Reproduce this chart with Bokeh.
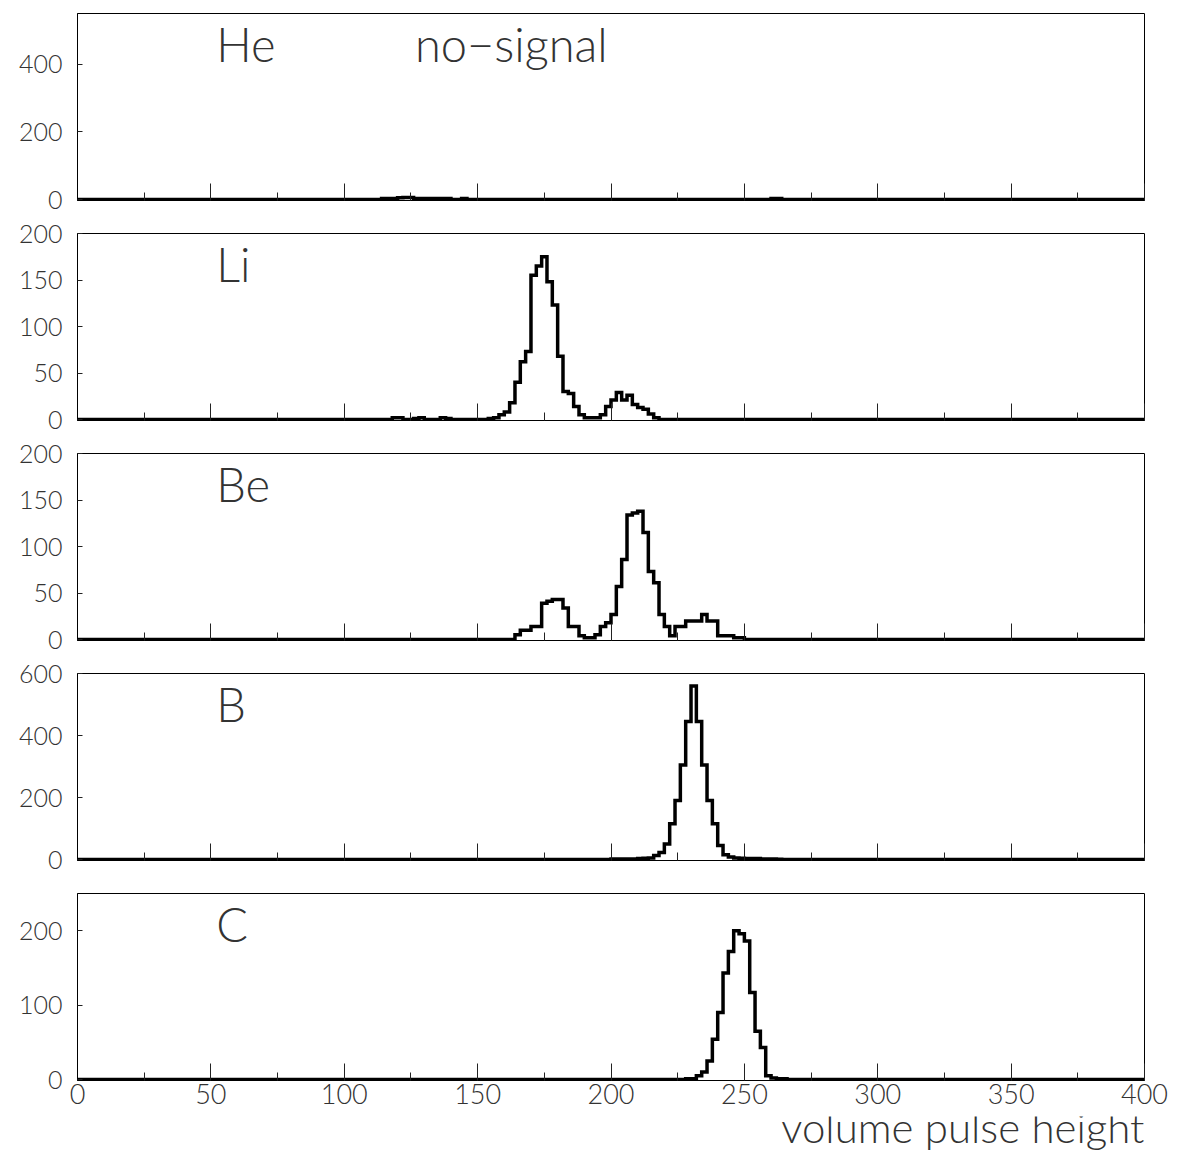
import numpy as np
from bokeh.plotting import figure
from bokeh.models import FixedTicker, Label, Range1d
from bokeh.layouts import column
from bokeh.embed import file_html
from bokeh.resources import INLINE

# ---------------- data ----------------
bin_width = 2
x_min, x_max = 0, 400
x_major_ticks = [0, 50, 100, 150, 200, 250, 300, 350, 400]
x_minor_ticks = [25, 75, 125, 175, 225, 275, 325, 375]
x_title = "volume pulse height"

# He (no-signal)
he_start_a = 114
he_counts_a = [3, 3, 3, 5, 6, 6, 3, 3, 3, 3, 3, 3, 3, 0, 0, 3]
he_start_b = 260
he_counts_b = [3, 3]
he_yticks = [0, 200, 400]
he_ymax = 550

# Li
li_start_a = 118
li_counts_a = [2, 2, 0, 0, 1, 2, 0, 0, 0, 2, 1]
li_start_b = 154
li_counts_b = [1, 2, 5, 8, 18, 40, 62, 73, 155, 165, 175, 148, 123, 68, 30, 28,
               14, 5, 2, 2, 2, 5, 14, 21, 29, 21, 26, 16, 13, 11, 6, 2]
li_yticks = [0, 50, 100, 150, 200]
li_ymax = 200

# Be
be_start = 164
be_counts = [5, 10, 10, 14, 14, 39, 41, 43, 43, 34, 14, 14, 4, 2, 2, 5, 14, 18,
             27, 57, 86, 134, 136, 138, 115, 73, 61, 27, 14, 4, 14, 14, 20, 20,
             20, 27, 20, 20, 4, 4, 4, 2, 2]
be_yticks = [0, 50, 100, 150, 200]
be_ymax = 200

# B
b_start = 200
b_counts = [2, 2, 2, 2, 2, 3, 4, 5, 13, 23, 50, 115, 190, 305, 445, 560, 445,
            305, 190, 115, 45, 15, 8, 5, 4, 3, 3, 3, 2, 2, 2, 1]
b_yticks = [0, 200, 400, 600]
b_ymax = 600

# C
c_start = 228
c_counts = [1, 1, 5, 10, 25, 54, 90, 143, 172, 200, 196, 186, 117, 65, 43, 5, 2, 1, 1]
c_yticks = [0, 100, 200]
c_ymax = 250

panels = [
    ("He", [(he_start_a, he_counts_a), (he_start_b, he_counts_b)], he_ymax, he_yticks, "no\u2212signal"),
    ("Li", [(li_start_a, li_counts_a), (li_start_b, li_counts_b)], li_ymax, li_yticks, None),
    ("Be", [(be_start, be_counts)], be_ymax, be_yticks, None),
    ("B", [(b_start, b_counts)], b_ymax, b_yticks, None),
    ("C", [(c_start, c_counts)], c_ymax, c_yticks, None),
]

# ---------------- style ----------------
FONT = "Lato Light, DejaVu Sans"
TEXT_COLOR = "#333333"
FRAME_W = 1067
FRAME_H = 187
BORDER_L = 77
BORDER_R = 31
FIG_W = BORDER_L + FRAME_W + BORDER_R


def full_hist(segments):
    n = int((x_max - x_min) / bin_width)
    counts = np.zeros(n)
    for start, seg in segments:
        i = int((start - x_min) / bin_width)
        counts[i:i + len(seg)] = seg
    return counts


edges = np.arange(x_min, x_max + bin_width, bin_width)

figs = []
for k, (name, segs, ymax, yticks, extra) in enumerate(panels):
    first = k == 0
    last = k == len(panels) - 1
    bt = 13 if first else 19
    bb = 36 if last else 14
    ystart = -ymax * 1.0 / FRAME_H
    scale = (ymax - ystart) / FRAME_H
    p = figure(width=FIG_W, height=bt + FRAME_H + bb,
               x_range=Range1d(x_min, x_max), y_range=Range1d(ystart, ymax),
               output_backend="svg", toolbar_location=None,
               min_border_left=BORDER_L, min_border_right=BORDER_R,
               min_border_top=bt, min_border_bottom=bb)
    p.xgrid.visible = False
    p.ygrid.visible = False
    p.outline_line_color = "black"
    p.outline_line_width = 1
    p.background_fill_color = "white"
    p.border_fill_color = "white"

    counts = full_hist(segs)
    p.step(edges, np.append(counts, counts[-1]), mode="after",
           line_color="black", line_width=3.5, line_join="miter")

    xa = p.xaxis[0]
    xa.ticker = FixedTicker(ticks=x_major_ticks, minor_ticks=x_minor_ticks)
    xa.major_tick_in = 17
    xa.major_tick_out = 0
    xa.minor_tick_in = 8
    xa.minor_tick_out = 0
    xa.axis_line_color = "black"
    xa.major_tick_line_color = "#222222"
    xa.minor_tick_line_color = "#222222"
    xa.major_label_text_font = FONT
    if last:
        xa.major_label_text_font_size = "27px"
        xa.major_label_text_color = TEXT_COLOR
        xa.major_label_standoff = 3
    else:
        xa.major_label_text_font_size = "1px"
        xa.major_label_text_color = None
        xa.major_label_standoff = 0

    ya = p.yaxis[0]
    ya.ticker = FixedTicker(ticks=yticks, minor_ticks=[])
    ya.major_tick_in = 5
    ya.major_tick_out = 0
    ya.minor_tick_in = 0
    ya.minor_tick_out = 0
    ya.axis_line_color = "black"
    ya.major_tick_line_color = "#222222"
    ya.major_label_text_font = FONT
    ya.major_label_text_font_size = "25px"
    ya.major_label_text_color = TEXT_COLOR
    ya.major_label_standoff = 15

    label_y = ymax - 30 * scale
    p.add_layout(Label(x=52, y=label_y, text=name, text_font=FONT,
                       text_font_size="47px", text_color=TEXT_COLOR,
                       text_baseline="alphabetic"))
    if extra:
        p.add_layout(Label(x=126.5, y=label_y, text=extra, text_font=FONT,
                           text_font_size="47px", text_color=TEXT_COLOR,
                           text_baseline="alphabetic"))
    figs.append(p)

# strip below the last panel holding the x-axis title, right-aligned to the frame
TITLE_H = 39
t = figure(width=FIG_W, height=TITLE_H,
           x_range=Range1d(x_min, x_max), y_range=Range1d(0, TITLE_H),
           output_backend="svg", toolbar_location=None,
           x_axis_location=None, y_axis_location=None,
           min_border_left=BORDER_L, min_border_right=BORDER_R,
           min_border_top=0, min_border_bottom=0)
t.xgrid.visible = False
t.ygrid.visible = False
t.outline_line_color = None
t.background_fill_color = "white"
t.border_fill_color = "white"
t.add_layout(Label(x=x_max, y=29, text=x_title, text_font=FONT,
                   text_font_size="42px", text_color=TEXT_COLOR,
                   text_align="right", text_baseline="alphabetic"))
figs.append(t)

layout = column(*figs, spacing=0)
open("out.html", "w").write(file_html(layout, INLINE))
